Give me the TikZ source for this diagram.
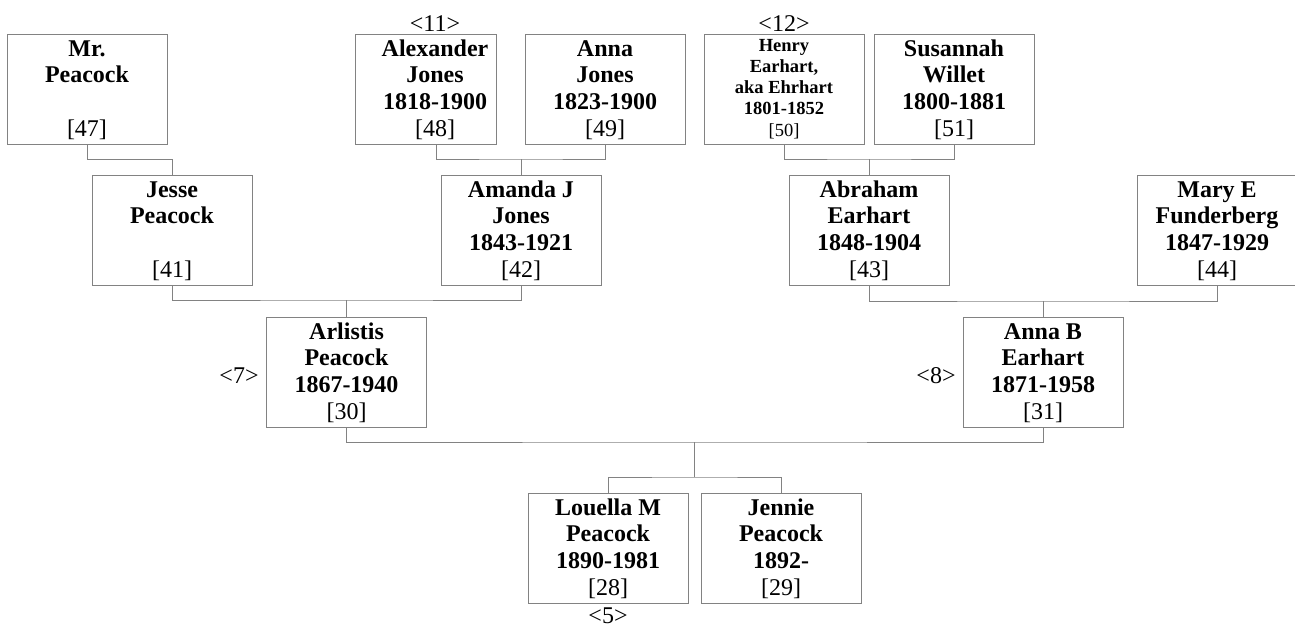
\documentclass[tikz,border=0pt]{standalone}
\usepackage{fontspec}
\setmainfont{Liberation Serif}
\definecolor{ln}{RGB}{130,130,130}
\newcommand\idx[1]{{\normalfont[#1]}}
\newcommand\pbody[1]{\parbox[t]{156pt}{\centering #1}}
\begin{document}
\begin{tikzpicture}[x=1pt,y=-1pt,
 box/.style={draw=ln, line width=1pt, minimum width=160pt, minimum height=110pt, anchor=north west, inner sep=0pt, outer sep=0pt},
 txt/.style={anchor=base, inner sep=0pt, outer sep=0pt, font=\fontsize{24}{26.8}\selectfont\bfseries},
 small/.style={font=\fontsize{18.5}{21.25}\selectfont\bfseries},
 tag/.style={anchor=base, inner sep=0pt, outer sep=0pt, font=\fontsize{24}{26.8}\selectfont},
 conn/.style={draw=ln, line width=1pt}]
\useasboundingbox (0,0) rectangle (1295,627);

% row 1
\node[box] (b47) at (7,34) {};
\node[box, minimum width=141pt] (b48) at (355,34) {};
\node[box] (b49) at (525,34) {};
\node[box] (b50) at (704,34) {};
\node[box] (b51) at (874,34) {};
% row 2
\node[box] (b41) at (92,175) {};
\node[box] (b42) at (441,175) {};
\node[box] (b43) at (789,175) {};
\node[box] (b44) at (1137,175) {};
% row 3
\node[box] (b30) at (266.5,317) {};
\node[box] (b31) at (963,317) {};
% row 4
\node[box] (b28) at (528,493) {};
\node[box] (b29) at (701,493) {};

% texts
\node[txt] (t47) at ([yshift=-22pt]b47.north) {\pbody{Mr.\\Peacock\\\mbox{}\\\idx{47}}};
\node[txt] (t48) at ([xshift=9.5pt,yshift=-22pt]b48.north) {\pbody{Alexander\\Jones\\1818-1900\\\idx{48}}};
\node[txt] (t49) at ([yshift=-22pt]b49.north) {\pbody{Anna\\Jones\\1823-1900\\\idx{49}}};
\node[txt,small] (t50) at ([yshift=-17pt]b50.north) {\pbody{Henry\\Earhart,\\aka Ehrhart\\1801-1852\\\idx{50}}};
\node[txt] (t51) at ([yshift=-22pt]b51.north) {\pbody{Susannah\\Willet\\1800-1881\\\idx{51}}};
\node[txt] (t41) at ([yshift=-22pt]b41.north) {\pbody{Jesse\\Peacock\\\mbox{}\\\idx{41}}};
\node[txt] (t42) at ([yshift=-22pt]b42.north) {\pbody{Amanda J\\Jones\\1843-1921\\\idx{42}}};
\node[txt] (t43) at ([yshift=-22pt]b43.north) {\pbody{Abraham\\Earhart\\1848-1904\\\idx{43}}};
\node[txt] (t44) at ([yshift=-22pt]b44.north) {\pbody{Mary E\\Funderberg\\1847-1929\\\idx{44}}};
\node[txt] (t30) at ([yshift=-22pt]b30.north) {\pbody{Arlistis\\Peacock\\1867-1940\\\idx{30}}};
\node[txt] (t31) at ([yshift=-22pt]b31.north) {\pbody{Anna B\\Earhart\\1871-1958\\\idx{31}}};
\node[txt] (t28) at ([yshift=-22pt]b28.north) {\pbody{Louella M\\Peacock\\1890-1981\\\idx{28}}};
\node[txt] (t29) at ([yshift=-22pt]b29.north) {\pbody{Jennie\\Peacock\\1892-\\\idx{29}}};

% tags
\node[tag] (l11) at (435,31) {<11>};
\node[tag] (l12) at (784,31) {<12>};
\node[tag] (l7) at (239,383) {<7>};
\node[tag] (l8) at (936,383) {<8>};
\node[tag] (l5) at (608,623) {<5>};

% junctions
\coordinate (j1) at (521,159);
\coordinate (j2) at (869,159);
\coordinate (j4) at (346.5,300);
\coordinate (j5) at (1043,301);
\coordinate (j6) at (694.5,442);
\coordinate (j7) at (694.5,477);

% connectors
\draw[conn] (b47.south) -- ++(0,15) -| (b41.north);
\draw[conn] ([xshift=10.5pt]b48.south) |- (j1) -| (b49.south);
\draw[conn] (j1) -- (b42.north);
\draw[conn] (b50.south) |- (j2) -| (b51.south);
\draw[conn] (j2) -- (b43.north);
\draw[conn] (b41.south) |- (j4) -| (b42.south);
\draw[conn] (j4) -- (b30.north);
\draw[conn] (b43.south) |- (j5) -| (b44.south);
\draw[conn] (j5) -- (b31.north);
\draw[conn] (b30.south) |- (j6) -| (b31.south);
\draw[conn] (j6) -- (j7);
\draw[conn] (b28.north) |- (j7) -| (b29.north);
\end{tikzpicture}
\end{document}
